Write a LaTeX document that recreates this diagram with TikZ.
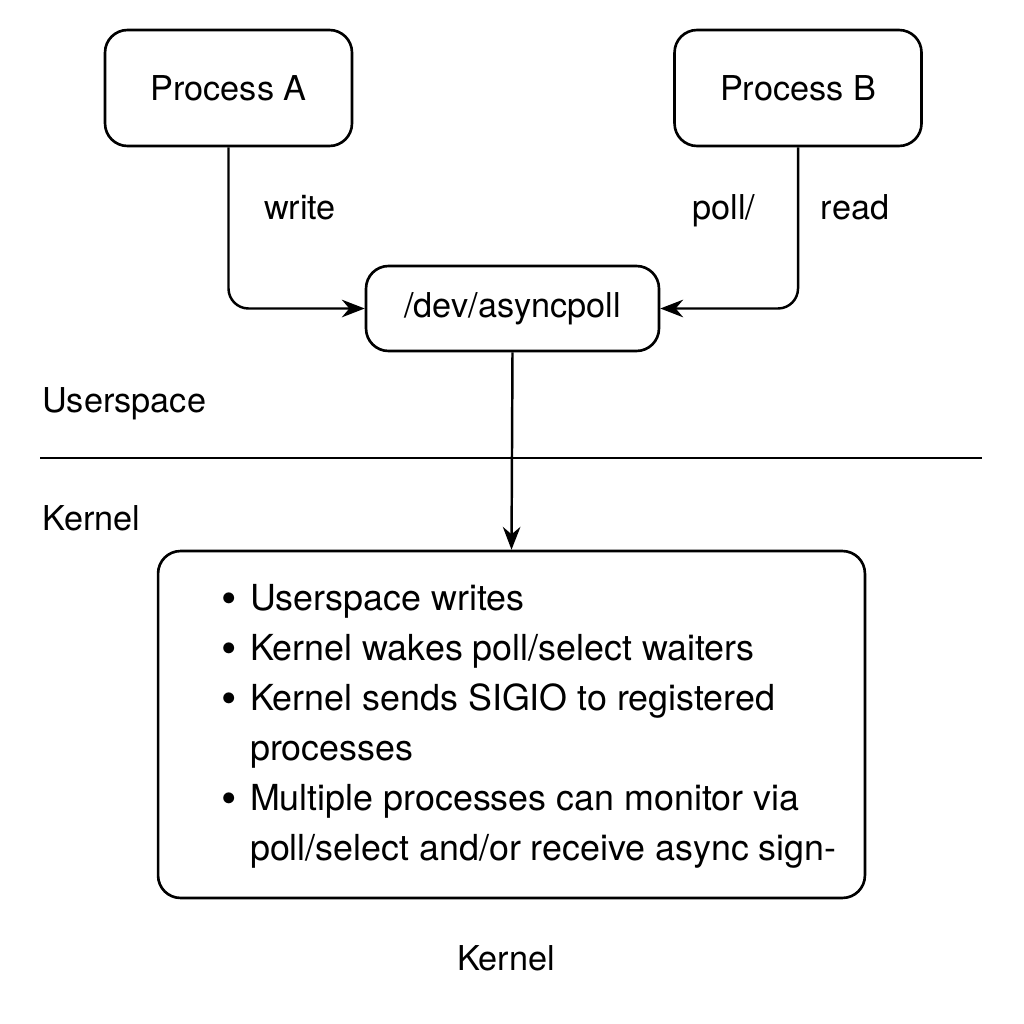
\documentclass[tikz,border=0pt]{standalone}
\usepackage{fontspec}
\setmainfont{TeX Gyre Heros}
\usetikzlibrary{positioning, calc, arrows.meta}
\newcommand{\kbul}{\makebox[0.58cm][l]{\raisebox{-1.7pt}{\fontsize{25}{25}\selectfont\textbullet}}}

\begin{document}
\begin{tikzpicture}[x=0.02cm, y=-0.02cm, >={Stealth[length=13pt, width=10pt]},
    box/.style={draw, line width=1.5pt, rounded corners=0.45cm, align=center, font=\fontsize{19.5}{23}\selectfont},
    proc/.style={box, minimum width=4.94cm, minimum height=2.32cm},
    flow/.style={->, line width=1.4pt, rounded corners=0.4cm},
    lbl/.style={anchor=base, font=\fontsize{19.5}{23}\selectfont}]
\useasboundingbox (0,0) rectangle (1024,1024);

% Userspace processes
\node[proc] (procA) at (228.5,88) {Process A};
\node[proc, right=6.4cm of procA] (procB) {Process B};
\node[box, minimum width=5.86cm, minimum height=1.7cm] (dev) at (512.5,308.5) {/dev/asyncpoll};

\draw[flow] (procA.south) |- (dev.west);
\draw[flow] (procB.south) |- (dev.east);
\node[lbl] (wlbl) at (300,219) {write};
\node[lbl] (plbl) at (724,219) {poll/};
\node[lbl] (rlbl) at (855,219) {read};

% Userspace / kernel split
\node[lbl, anchor=base west] (uspace) at (36,412) {Userspace};
\draw[line width=0.9pt] (40,458) -- (982,458);
\node[lbl, anchor=base west] (kspace) at (36,530) {Kernel};

% Kernel side
\node[box, minimum width=14.14cm, minimum height=6.94cm] (kbox) at (511.5,724.5) {};
\node[anchor=base west, inner sep=0pt, font=\fontsize{20.4}{28.45}\selectfont] (kitems) at ($(kbox.north west)+(64,61)$) {%
  \begin{tabular}[t]{@{}l@{}}
  \kbul Userspace writes\\
  \kbul Kernel wakes poll/select waiters\\
  \kbul Kernel sends SIGIO to registered\\
  \hspace{0.58cm}processes\\
  \kbul Multiple processes can monitor via\\
  \hspace{0.58cm}poll/select and/or receive async sign-
  \end{tabular}};
\draw[flow] (dev.south) -- (kbox.north);

\node[lbl] (klbl) at (506,970) {Kernel};
\end{tikzpicture}
\end{document}
